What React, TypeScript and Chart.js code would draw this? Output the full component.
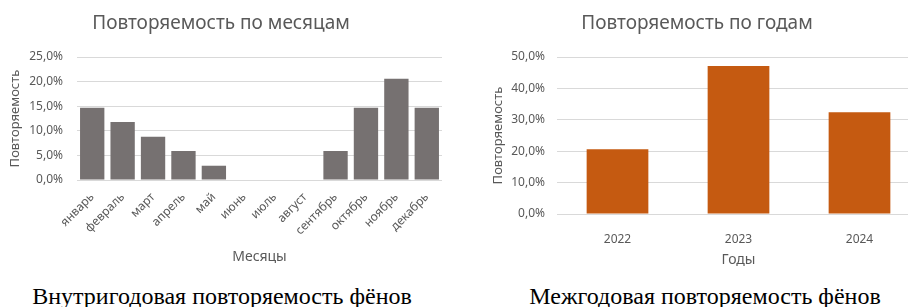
import React, { useEffect, useRef } from "react";
import { Chart, registerables } from "chart.js";

Chart.register(...registerables);

const months = ["январь", "февраль", "март", "апрель", "май", "июнь", "июль", "август", "сентябрь", "октябрь", "ноябрь", "декабрь"];
const monthValues = [14.7, 11.8, 8.8, 5.9, 2.9, 0, 0, 0, 5.9, 14.7, 20.6, 14.7];
const years = ["2022", "2023", "2024"];
const yearValues = [20.6, 47.1, 32.4];

const TEXT = "#595959";
const GRID = "#d9d9d9";
const FONT = "'Noto Sans', sans-serif";

const fmt = (v: any) => Number(v).toFixed(1).replace(".", ",") + "%";

function MonthChart() {
  const ref = useRef<HTMLCanvasElement>(null);
  useEffect(() => {
    const chart = new Chart(ref.current!, {
      type: "bar",
      data: {
        labels: months,
        datasets: [{ data: monthValues, backgroundColor: "#767171", barPercentage: 0.8, categoryPercentage: 1 }],
      },
      options: {
        animation: false,
        responsive: false,
        layout: { padding: { left: 0, right: 8, top: 0, bottom: 0 } },
        plugins: {
          legend: { display: false },
          tooltip: { enabled: false },
          title: {
            display: true,
            text: "Повторяемость по месяцам",
            color: TEXT,
            font: { family: FONT, size: 19, weight: "normal" },
            padding: { top: 12, bottom: 22.2 },
          },
        },
        scales: {
          x: {
            grid: { display: false },
            border: { display: false },
            ticks: { color: TEXT, font: { family: FONT, size: 12 }, minRotation: 45, maxRotation: 45, padding: 2 },
            title: { display: true, text: "Месяцы", color: TEXT, font: { family: FONT, size: 14 }, padding: { top: 0, bottom: 10 } },
            afterFit: (s: any) => { s.height = 95; },
          },
          y: {
            min: 0,
            max: 25,
            ticks: { stepSize: 5, color: TEXT, font: { family: FONT, size: 12 }, padding: 14, callback: fmt },
            grid: { color: GRID, drawTicks: false },
            border: { display: false },
            title: { display: true, text: "Повторяемость", color: TEXT, font: { family: FONT, size: 13 }, padding: { top: 7, bottom: 0 } },
            afterFit: (s: any) => { s.width = 77; },
          },
        },
      },
    } as any);
    return () => chart.destroy();
  }, []);
  return <canvas ref={ref} width={450} height={275} style={{ display: "block" }} />;
}

function YearChart() {
  const ref = useRef<HTMLCanvasElement>(null);
  useEffect(() => {
    const chart = new Chart(ref.current!, {
      type: "bar",
      data: {
        labels: years,
        datasets: [{ data: yearValues, backgroundColor: "#C55A11", barPercentage: 0.51, categoryPercentage: 1 }],
      },
      options: {
        animation: false,
        responsive: false,
        layout: { padding: { left: 14, right: 14, top: 0, bottom: 0 } },
        plugins: {
          legend: { display: false },
          tooltip: { enabled: false },
          title: {
            display: true,
            text: "Повторяемость по годам",
            color: TEXT,
            font: { family: FONT, size: 19, weight: "normal" },
            padding: { top: 12, bottom: 22.2 },
          },
        },
        scales: {
          x: {
            grid: { display: false },
            border: { display: false },
            ticks: { color: TEXT, font: { family: FONT, size: 12 }, padding: 10 },
            title: { display: true, text: "Годы", color: TEXT, font: { family: FONT, size: 14 }, padding: { top: 0, bottom: 6.6 } },
            afterFit: (s: any) => { s.height = 61; },
          },
          y: {
            min: 0,
            max: 50,
            ticks: { stepSize: 10, color: TEXT, font: { family: FONT, size: 12 }, padding: 12, callback: fmt },
            grid: { color: GRID, drawTicks: false },
            border: { display: false },
            title: { display: true, text: "Повторяемость", color: TEXT, font: { family: FONT, size: 13 }, padding: { top: 16, bottom: 0 } },
            afterFit: (s: any) => { s.width = 83; },
          },
        },
      },
    } as any);
    return () => chart.destroy();
  }, []);
  return <canvas ref={ref} width={474} height={275} style={{ display: "block" }} />;
}

const captionStyle: React.CSSProperties = {
  position: "absolute",
  top: 281,
  fontFamily: "'Liberation Serif', 'Times New Roman', serif",
  fontSize: 24,
  lineHeight: "30px",
  color: "#000",
  whiteSpace: "nowrap",
  transform: "translateX(-50%)",
};

export default function App() {
  return (
    <div style={{ position: "absolute", left: 0, top: 0, width: 912, height: 307, background: "#fff", overflow: "hidden" }}>
      <div style={{ position: "absolute", left: 0, top: 0 }}>
        <MonthChart />
      </div>
      <div style={{ position: "absolute", left: 460, top: 0, width: 448, height: 275, overflow: "hidden" }}>
        <YearChart />
      </div>
      <div style={{ ...captionStyle, left: 222 }}>Внутригодовая повторяемость фёнов</div>
      <div style={{ ...captionStyle, left: 705 }}>Межгодовая повторяемость фёнов</div>
    </div>
  );
}
